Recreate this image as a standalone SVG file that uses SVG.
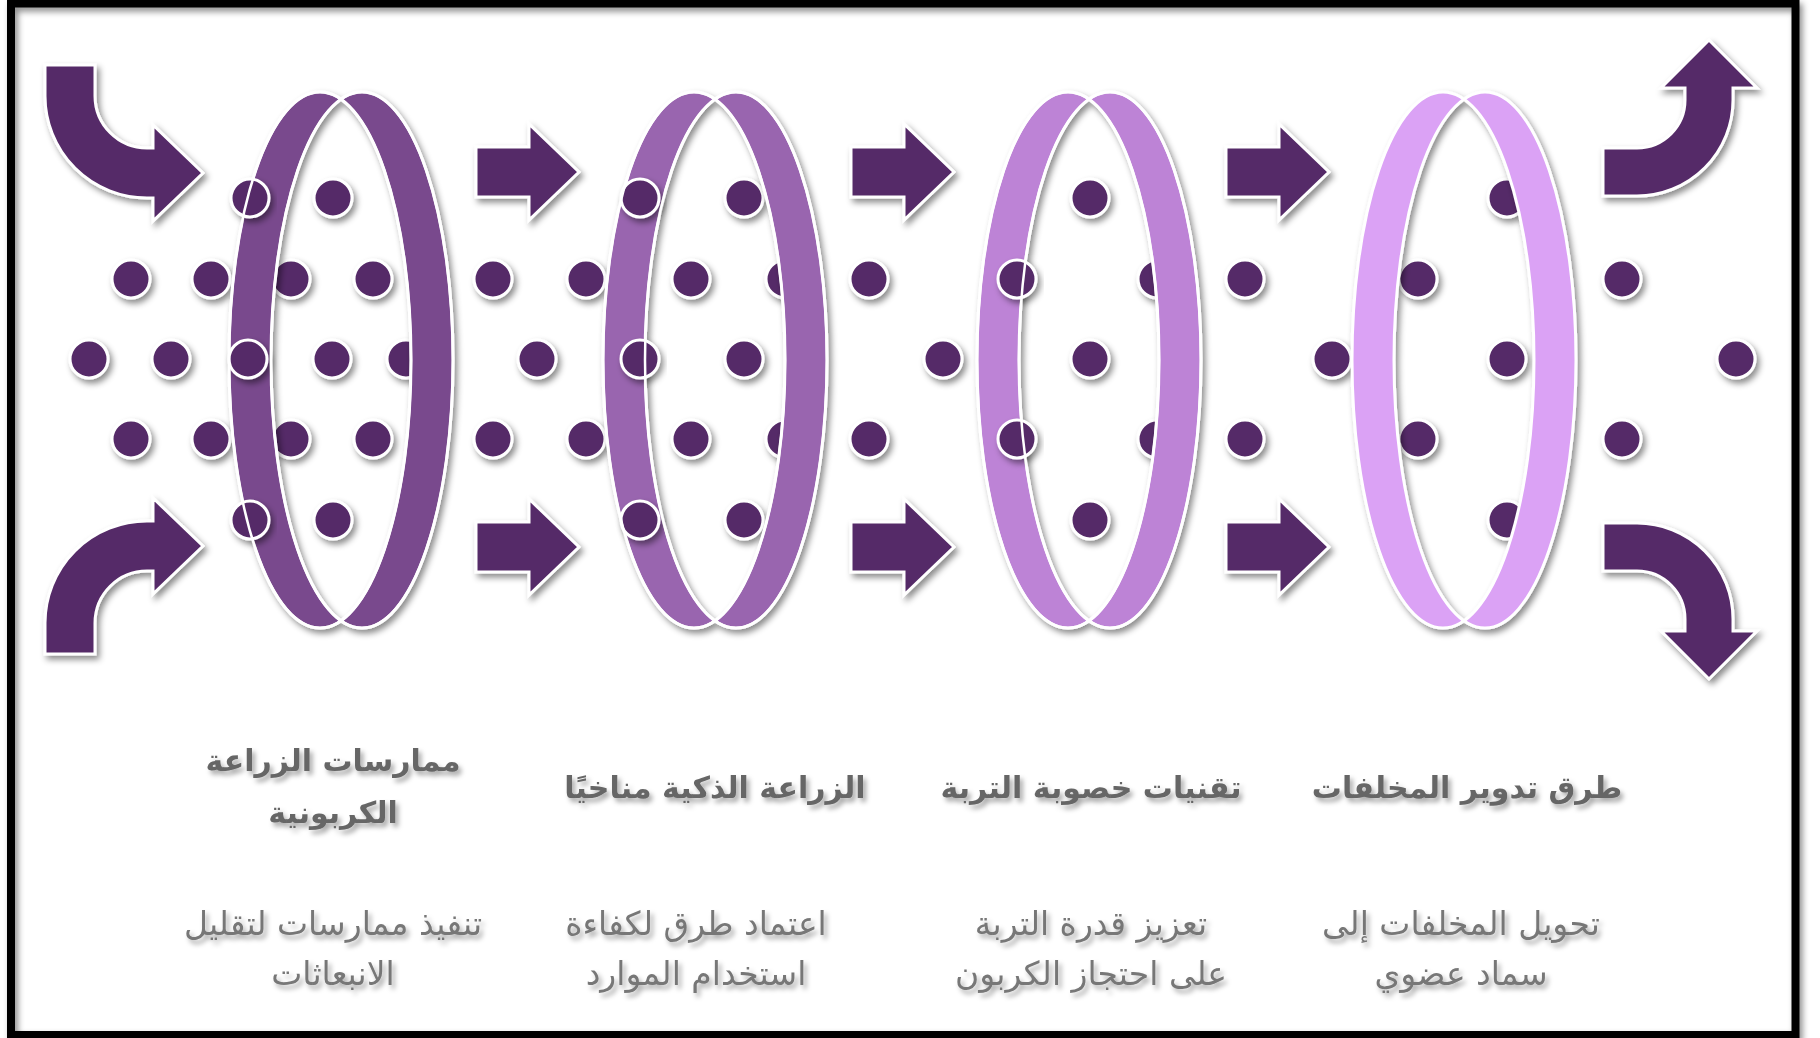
<svg xmlns="http://www.w3.org/2000/svg" width="1820" height="1038" viewBox="0 0 1820 1038">
  <defs>
    <filter id="sh" x="-20%" y="-20%" width="140%" height="140%">
      <feDropShadow dx="3" dy="4" stdDeviation="3" flood-color="#000" flood-opacity="0.45"/>
    </filter>
    <filter id="tsh" x="-10%" y="-30%" width="120%" height="160%">
      <feDropShadow dx="3" dy="4" stdDeviation="2.5" flood-color="#000" flood-opacity="0.35"/>
    </filter>
    <style>
      .dot { fill:#552B67; stroke:#fff; stroke-width:3; }
      .arrow { fill:#552B67; stroke:#fff; stroke-width:3; }
      .ring { stroke:#fff; stroke-width:3; fill-rule:evenodd; }
      .edge { fill:none; stroke:#fff; stroke-width:2.5; }
      .title { font-family:"DejaVu Sans", "Noto Sans", sans-serif; font-weight:bold; font-size:30px; fill:#666; text-anchor:middle; dominant-baseline:central; }
      .desc { font-family:"DejaVu Sans", "Noto Sans", sans-serif; font-weight:normal; font-size:33px; fill:#777; text-anchor:middle; dominant-baseline:central; }
    </style>
  </defs>
  <rect width="1820" height="1038" fill="#fff"/>
  <rect x="11" y="3.5" width="1784.5" height="1031.5" fill="none" stroke="#000" stroke-width="8" filter="url(#sh)"/>

  <!-- particles behind the rings -->
  <g id="particles" filter="url(#sh)">
    <!-- row 279 -->
    <circle class="dot" cx="131" cy="279" r="19"/>
    <circle class="dot" cx="211" cy="279" r="19"/>
    <circle class="dot" cx="291" cy="279" r="19"/>
    <circle class="dot" cx="373" cy="279" r="19"/>
    <circle class="dot" cx="493" cy="279" r="19"/>
    <circle class="dot" cx="586" cy="279" r="19"/>
    <circle class="dot" cx="691" cy="279" r="19"/>
    <circle class="dot" cx="785" cy="279" r="19"/>
    <circle class="dot" cx="869" cy="279" r="19"/>
    <circle class="dot" cx="1157" cy="279" r="19"/>
    <circle class="dot" cx="1245" cy="279" r="19"/>
    <circle class="dot" cx="1418" cy="279" r="19"/>
    <circle class="dot" cx="1622" cy="279" r="19"/>
    <!-- row 439 -->
    <circle class="dot" cx="131" cy="439" r="19"/>
    <circle class="dot" cx="211" cy="439" r="19"/>
    <circle class="dot" cx="291" cy="439" r="19"/>
    <circle class="dot" cx="373" cy="439" r="19"/>
    <circle class="dot" cx="493" cy="439" r="19"/>
    <circle class="dot" cx="586" cy="439" r="19"/>
    <circle class="dot" cx="691" cy="439" r="19"/>
    <circle class="dot" cx="785" cy="439" r="19"/>
    <circle class="dot" cx="869" cy="439" r="19"/>
    <circle class="dot" cx="1157" cy="439" r="19"/>
    <circle class="dot" cx="1245" cy="439" r="19"/>
    <circle class="dot" cx="1418" cy="439" r="19"/>
    <circle class="dot" cx="1622" cy="439" r="19"/>
    <!-- row 359 -->
    <circle class="dot" cx="89" cy="359" r="19"/>
    <circle class="dot" cx="171" cy="359" r="19"/>
    <circle class="dot" cx="332" cy="359" r="19"/>
    <circle class="dot" cx="406" cy="359" r="19"/>
    <circle class="dot" cx="537" cy="359" r="19"/>
    <circle class="dot" cx="744" cy="359" r="19"/>
    <circle class="dot" cx="943" cy="359" r="19"/>
    <circle class="dot" cx="1090" cy="359" r="19"/>
    <circle class="dot" cx="1332" cy="359" r="19"/>
    <circle class="dot" cx="1507" cy="359" r="19"/>
    <circle class="dot" cx="1736" cy="359" r="19"/>
    <!-- rows 198 / 520 -->
    <circle class="dot" cx="333" cy="198" r="19"/>
    <circle class="dot" cx="744" cy="198" r="19"/>
    <circle class="dot" cx="1090" cy="198" r="19"/>
    <circle class="dot" cx="1507" cy="198" r="19"/>
    <circle class="dot" cx="333" cy="520" r="19"/>
    <circle class="dot" cx="744" cy="520" r="19"/>
    <circle class="dot" cx="1090" cy="520" r="19"/>
    <circle class="dot" cx="1507" cy="520" r="19"/>
  </g>

  <!-- stage 1 -->
  <g id="stage1">
    <path class="ring" fill="#794A8D" filter="url(#sh)" d="M229,360 a91,268 0 1 0 182,0 a91,268 0 1 0 -182,0 Z M271,360 a91,268 0 1 0 182,0 a91,268 0 1 0 -182,0 Z"/>
    <g filter="url(#sh)">
      <circle class="dot" cx="250" cy="198" r="19"/>
      <circle class="dot" cx="248" cy="359" r="19"/>
      <circle class="dot" cx="250" cy="520" r="19"/>
    </g>
    <path class="edge" d="M229,360 a91,268 0 1 0 182,0 a91,268 0 1 0 -182,0 Z M271,360 a91,268 0 1 0 182,0 a91,268 0 1 0 -182,0 Z"/>
    <g filter="url(#tsh)">
      <text class="title" x="333" y="760">ممارسات الزراعة</text>
      <text class="title" x="333" y="812">الكربونية</text>
      <text class="desc" x="333" y="923">تنفيذ ممارسات لتقليل</text>
      <text class="desc" x="333" y="973">الانبعاثات</text>
    </g>
  </g>

  <!-- stage 2 -->
  <g id="stage2">
    <path class="ring" fill="#9965AF" filter="url(#sh)" d="M603,360 a91,268 0 1 0 182,0 a91,268 0 1 0 -182,0 Z M645,360 a91,268 0 1 0 182,0 a91,268 0 1 0 -182,0 Z"/>
    <g filter="url(#sh)">
      <circle class="dot" cx="640" cy="198" r="19"/>
      <circle class="dot" cx="640" cy="359" r="19"/>
      <circle class="dot" cx="640" cy="520" r="19"/>
    </g>
    <path class="edge" d="M603,360 a91,268 0 1 0 182,0 a91,268 0 1 0 -182,0 Z M645,360 a91,268 0 1 0 182,0 a91,268 0 1 0 -182,0 Z"/>
    <g filter="url(#tsh)">
      <text class="title" x="715" y="787">الزراعة الذكية مناخيًا</text>
      <text class="desc" x="696" y="923">اعتماد طرق لكفاءة</text>
      <text class="desc" x="696" y="973">استخدام الموارد</text>
    </g>
  </g>

  <!-- stage 3 -->
  <g id="stage3">
    <path class="ring" fill="#BD83D6" filter="url(#sh)" d="M977,360 a91,268 0 1 0 182,0 a91,268 0 1 0 -182,0 Z M1019,360 a91,268 0 1 0 182,0 a91,268 0 1 0 -182,0 Z"/>
    <g filter="url(#sh)">
      <circle class="dot" cx="1017" cy="279" r="19"/>
      <circle class="dot" cx="1017" cy="439" r="19"/>
    </g>
    <path class="edge" d="M977,360 a91,268 0 1 0 182,0 a91,268 0 1 0 -182,0 Z M1019,360 a91,268 0 1 0 182,0 a91,268 0 1 0 -182,0 Z"/>
    <g filter="url(#tsh)">
      <text class="title" x="1091" y="787">تقنيات خصوبة التربة</text>
      <text class="desc" x="1091" y="923">تعزيز قدرة التربة</text>
      <text class="desc" x="1091" y="973">على احتجاز الكربون</text>
    </g>
  </g>

  <!-- stage 4 -->
  <g id="stage4">
    <path class="ring" fill="#DBA2F5" filter="url(#sh)" d="M1352,360 a91,268 0 1 0 182,0 a91,268 0 1 0 -182,0 Z M1394,360 a91,268 0 1 0 182,0 a91,268 0 1 0 -182,0 Z"/>
    <g filter="url(#tsh)">
      <text class="title" x="1467" y="787">طرق تدوير المخلفات</text>
      <text class="desc" x="1461" y="923">تحويل المخلفات إلى</text>
      <text class="desc" x="1461" y="973">سماد عضوي</text>
    </g>
  </g>

  <!-- connectors -->
  <g id="connectors" filter="url(#sh)">
    <path class="arrow" d="M45,65 H95 V96 A52,52 0 0 0 147,148 H153 V125 L203,173 L153,221 V198 H147 A102,102 0 0 1 45,96 Z"/>
    <path class="arrow" d="M45,654 H95 V623 A52,52 0 0 1 147,571 H153 V594 L203,546 L153,498 V521 H147 A102,102 0 0 0 45,623 Z"/>
    <path class="arrow" d="M476,147 H529 V124 L579,172 L529,220 V197 H476 Z"/>
    <path class="arrow" d="M851,147 H904 V124 L954,172 L904,220 V197 H851 Z"/>
    <path class="arrow" d="M1226,147 H1279 V124 L1329,172 L1279,220 V197 H1226 Z"/>
    <path class="arrow" d="M476,522 H529 V499 L579,547 L529,595 V572 H476 Z"/>
    <path class="arrow" d="M851,522 H904 V499 L954,547 L904,595 V572 H851 Z"/>
    <path class="arrow" d="M1226,522 H1279 V499 L1329,547 L1279,595 V572 H1226 Z"/>
    <path class="arrow" d="M1603,148 H1637 A48,48 0 0 0 1685,100 V88 H1661 L1709,40 L1757,88 H1733 V100 A96,96 0 0 1 1637,196 H1603 Z"/>
    <path class="arrow" d="M1603,571 H1637 A48,48 0 0 1 1685,619 V631 H1661 L1709,679 L1757,631 H1733 V619 A96,96 0 0 0 1637,523 H1603 Z"/>
  </g>
</svg>
